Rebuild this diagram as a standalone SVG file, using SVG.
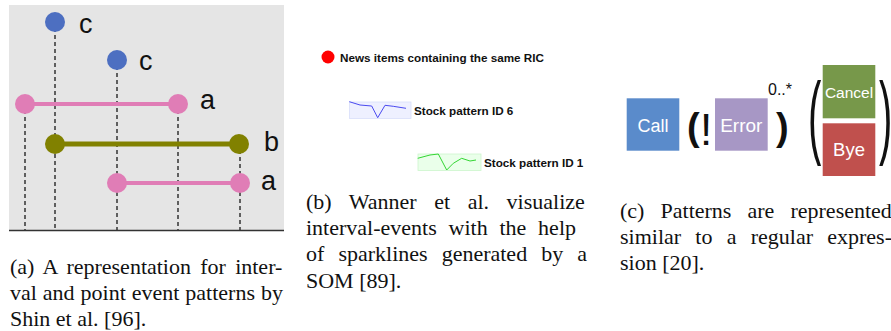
<svg xmlns="http://www.w3.org/2000/svg" width="891" height="331" viewBox="0 0 891 331">
<style>
.lbl{font-family:"Liberation Sans",Arial,sans-serif;font-size:27px;fill:#111}
.cap{font-family:"Liberation Serif","Times New Roman",serif;font-size:22px;fill:#111}
.dash{stroke:#333;stroke-width:1.5;stroke-dasharray:4 3;fill:none}
.blue{fill:#4d6fc1}
.pink{fill:#e07db6}
.olive{fill:#818100}
.sk{font-family:"Liberation Sans",Arial,sans-serif;font-weight:bold;font-size:11.7px;fill:#111}
.box{font-family:"Liberation Sans",Arial,sans-serif;fill:#fff;text-anchor:middle}
.par{font-family:"Liberation Sans",Arial,sans-serif;fill:#111}
</style>
<rect width="891" height="331" fill="#fff"/>
<!-- Panel (a) -->
<g id="panel-a">
<rect x="9" y="5" width="275" height="226" fill="#e5e5e5"/>
<line x1="9" y1="230.5" x2="284" y2="230.5" stroke="#333" stroke-width="1.5"/>
</g>
<g id="connectors">
<line class="dash" x1="25" y1="110" x2="25" y2="230"/>
<line class="dash" x1="55" y1="28" x2="55" y2="230"/>
<line class="dash" x1="117" y1="66" x2="117" y2="230"/>
<line class="dash" x1="178" y1="110" x2="178" y2="230"/>
<line class="dash" x1="240" y1="150" x2="240" y2="230"/>
<line x1="25" y1="104" x2="178" y2="104" stroke="#e07db6" stroke-width="4"/>
<line x1="55" y1="144" x2="239" y2="144" stroke="#818100" stroke-width="5"/>
<line x1="117" y1="183" x2="240" y2="183" stroke="#e07db6" stroke-width="4"/>
</g>
<g id="node-c1"><circle class="blue" cx="55" cy="22" r="10"/><text class="lbl" x="79" y="33">c</text></g>
<g id="node-c2"><circle class="blue" cx="117" cy="60" r="10"/><text class="lbl" x="139" y="70">c</text></g>
<g id="node-a1"><circle class="pink" cx="25" cy="104" r="10"/><circle class="pink" cx="178" cy="104" r="10"/><text class="lbl" x="200" y="109">a</text></g>
<g id="node-b"><circle class="olive" cx="55" cy="144" r="10"/><circle class="olive" cx="239" cy="144" r="10"/><text class="lbl" x="264" y="151">b</text></g>
<g id="node-a2"><circle class="pink" cx="117" cy="183" r="10"/><circle class="pink" cx="240" cy="183" r="10"/><text class="lbl" x="261" y="190">a</text></g>
<text class="cap" x="10" y="273.5" style="word-spacing:3.75px">(a) A representation for inter-</text>
<text class="cap" x="10" y="299.7" style="word-spacing:0.46px">val and point event patterns by</text>
<text class="cap" x="10" y="325.9">Shin et al. [96].</text>
<!-- Panel (b) -->
<g id="legend-news"><circle cx="328" cy="57" r="6.5" fill="#ff0000"/><text class="sk" x="340" y="61.5">News items containing the same RIC</text></g>
<g id="legend-id6">
<rect x="349.5" y="102" width="61.5" height="16.5" fill="#eef0ff" stroke="#d8defa" stroke-width="0.8"/>
<polyline points="349.3,101.7 360,105 371.7,106 377.7,117.7 385,105.3 393.3,106.3 406,108.3" fill="none" stroke="#4a4af0" stroke-width="1"/>
<text class="sk" x="414" y="114.5">Stock pattern ID 6</text>
</g>
<g id="legend-id1">
<rect x="418" y="154" width="63" height="16.5" fill="#eaffea" stroke="#cdf5cd" stroke-width="0.8"/>
<polyline points="417.7,158.3 430,155 438.3,154 446.7,170 453.3,163.3 461.7,158.3 470,161 476,160" fill="none" stroke="#33d633" stroke-width="1"/>
<text class="sk" x="484" y="166.5">Stock pattern ID 1</text>
</g>
<text class="cap" x="306" y="209" style="word-spacing:12.06px">(b) Wanner et al. visualize</text>
<text class="cap" x="306" y="235.2" style="word-spacing:6.3px">interval-events with the help</text>
<text class="cap" x="306" y="261.4" style="word-spacing:8.55px">of sparklines generated by a</text>
<text class="cap" x="306" y="287.6">SOM [89].</text>
<!-- Panel (c) -->
<g id="node-call"><rect x="626.7" y="98.3" width="52.6" height="52.4" fill="#5a8bcb"/><text class="box" x="653" y="131.7" font-size="18">Call</text></g>
<text class="par" x="687" y="140" font-size="38" font-weight="bold">(</text>
<text class="par" x="700" y="145" font-size="44">!</text>
<g id="node-error"><rect x="715" y="98.3" width="52.7" height="52.4" fill="#a797c5"/><text class="box" x="741.3" y="131.7" font-size="19">Error</text></g>
<text class="par" x="776" y="140" font-size="38" font-weight="bold">)</text>
<text x="768" y="95" font-family="Liberation Sans, Arial, sans-serif" font-size="16" fill="#111">0..*</text>
<text class="par" font-size="40" transform="translate(808,0) scale(1,2.31)" x="0" y="63.7">(</text>
<g id="node-cancel"><rect x="822.7" y="65" width="52.6" height="53.3" fill="#77984a"/><text class="box" x="849" y="98.3" font-size="15.5">Cancel</text></g>
<g id="node-bye"><rect x="822.7" y="123.3" width="52.6" height="52.7" fill="#c0504d"/><text class="box" x="849" y="156" font-size="18.5">Bye</text></g>
<text class="par" font-size="40" transform="translate(879,0) scale(1,2.31)" x="0" y="63.7">)</text>
<text class="cap" x="620" y="217.5" style="word-spacing:10.6px">(c) Patterns are represented</text>
<text class="cap" x="620" y="243.7" style="word-spacing:8.74px">similar to a regular expres-</text>
<text class="cap" x="620" y="269.9">sion [20].</text>
</svg>
